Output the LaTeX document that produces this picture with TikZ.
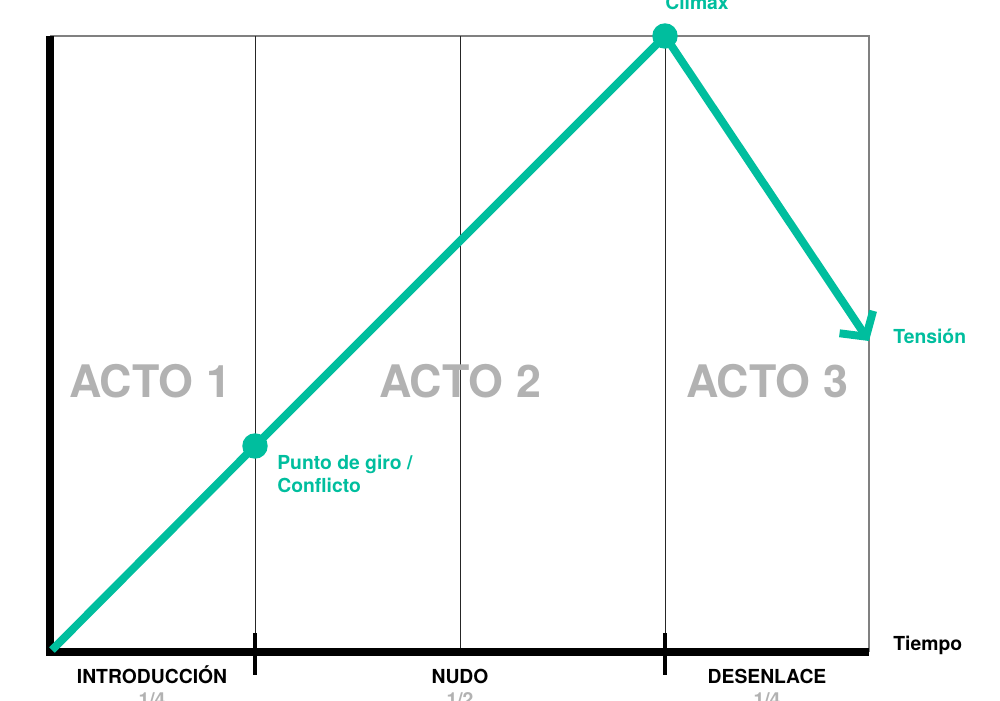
\documentclass[tikz,border=0pt]{standalone}
\usepackage{fontspec}
\setmainfont{TeX Gyre Heros}
\usetikzlibrary{arrows.meta}
\definecolor{verde}{RGB}{0,190,158}
\definecolor{gris}{RGB}{178,178,178}

\begin{document}
\begin{tikzpicture}[x=0.02cm, y=-0.02cm,
    eje/.style={line width=4.5pt},
    marca/.style={line width=2.2pt},
    fino/.style={line width=0.45pt, black!85},
    linea/.style={line width=4.5pt, verde},
    acto/.style={font=\fontsize{25.5}{25.5}\selectfont\bfseries, text=gris, inner sep=0pt},
    fase/.style={font=\fontsize{11}{11}\selectfont\bfseries, text=black, inner sep=0pt},
    parte/.style={font=\fontsize{11}{11}\selectfont\bfseries, text=gris, inner sep=0pt},
    nota/.style={font=\fontsize{11}{13}\selectfont\bfseries, text=verde, inner sep=0pt, align=left},
    punto/.style={circle, fill=verde, inner sep=0pt, minimum size=14.5pt}]
      \clip (0,0) rectangle (1000,700);

      \draw[line width=1pt, black!50] (50,36) -- (869,36) -- (869,652);
      \draw[fino] (255,36) -- (255,652);
      \draw[fino] (460,36) -- (460,652);
      \draw[fino] (665,36) -- (665,652);
      \draw[eje] (50,36) -- (50,652) -- (869,652);
      \draw[marca] (255,633) -- (255,675);
      \draw[marca] (665,633) -- (665,675);

      \node[acto, anchor=base] (acto1) at (150,397) {ACTO 1};
      \node[acto, anchor=base] (acto2) at (460,397) {ACTO 2};
      \node[acto, anchor=base] (acto3) at (767,397) {ACTO 3};

      \coordinate (o) at (52,650);
      \coordinate (fin) at (869,341);
      \node[punto] (giro) at (255,446) {};
      \node[punto] (climax) at (665,36) {};
      \draw[linea] (o) -- (giro.center) -- (climax.center);
      \draw[linea, -{Straight Barb[length=10pt, width=23pt]}] (climax.center) -- (fin);

      \node[nota, anchor=north west] (lgiro) at (277,455) {Punto de giro /\\Conflicto};
      \node[nota, anchor=base] (lclimax) at (697,9) {Clímax};
      \node[nota, anchor=base west] (ltension) at (893,343) {Tensión};
      \node[fase, anchor=base west] (ltiempo) at (893,650) {Tiempo};

      \node[fase, anchor=base] (intro) at (152,683) {INTRODUCCIÓN};
      \node[fase, anchor=base] (nudo) at (460,683) {NUDO};
      \node[fase, anchor=base] (desenlace) at (767,683) {DESENLACE};
      \node[parte, anchor=base] (p1) at (152,706) {1/4};
      \node[parte, anchor=base] (p2) at (460,706) {1/2};
      \node[parte, anchor=base] (p3) at (767,706) {1/4};
    \end{tikzpicture}
\end{document}
